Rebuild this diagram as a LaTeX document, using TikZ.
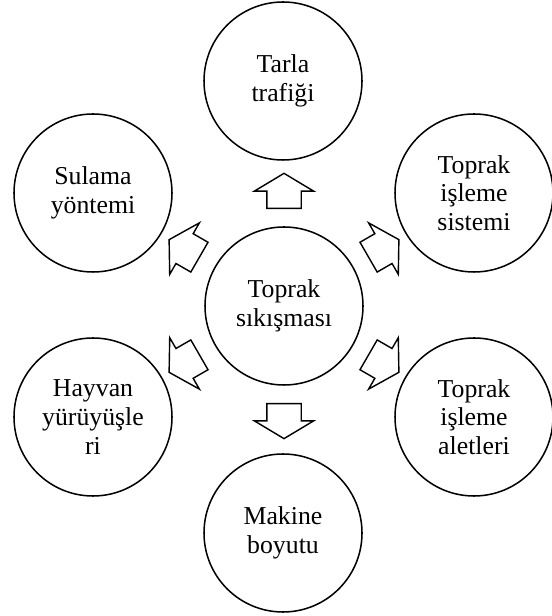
\documentclass[tikz,border=0pt]{standalone}
\usepackage{fontspec}
\setmainfont{Liberation Serif}
\usetikzlibrary{positioning, shapes.arrows, calc}
\tikzset{
    factor/.style={circle, draw=black, line width=1.3pt, minimum size=4.74cm, inner sep=0pt, align=center, font=\fontsize{22}{24.5}\selectfont},
    pusharrow/.style={single arrow, draw=black, fill=white, line width=1.2pt, inner xsep=0pt, inner ysep=0.495cm, minimum height=1.05cm, single arrow head extend=0.375cm, single arrow tip angle=118, rotate=#1}
}
\begin{document}
\begin{tikzpicture}[x=0.03cm, y=0.03cm]
            \useasboundingbox (0,0) rectangle (551,616);

            % Central cause
            \node[factor] (core) at (284,310) {Toprak\\sıkışması};

            % Surrounding factors
            \node[factor] (traffic) at (283,535) {Tarla\\trafiği};
            \node[factor] (tillsys) at (474,423) {Toprak\\işleme\\sistemi};
            \node[factor] (tools) at (474,199) {Toprak\\işleme\\aletleri};
            \node[factor] (machine) at (283,83) {Makine\\boyutu};
            \node[factor] (animal) at (93,199) {Hayvan\\yürüyüşle\\ri};
            \node[factor] (irrig) at (93,423) {Sulama\\yöntemi};

            % Block arrows pointing outwards
            \node[pusharrow=90] (ar-traffic) at ($(core)+(90:110)$) {};
            \node[pusharrow=30] (ar-tillsys) at ($(core)+(30:110)$) {};
            \node[pusharrow=-30] (ar-tools) at ($(core)+(-30:110)$) {};
            \node[pusharrow=-90] (ar-machine) at ($(core)+(-90:110)$) {};
            \node[pusharrow=210] (ar-animal) at ($(core)+(210:110)$) {};
            \node[pusharrow=150] (ar-irrig) at ($(core)+(150:110)$) {};
        \end{tikzpicture}
\end{document}
